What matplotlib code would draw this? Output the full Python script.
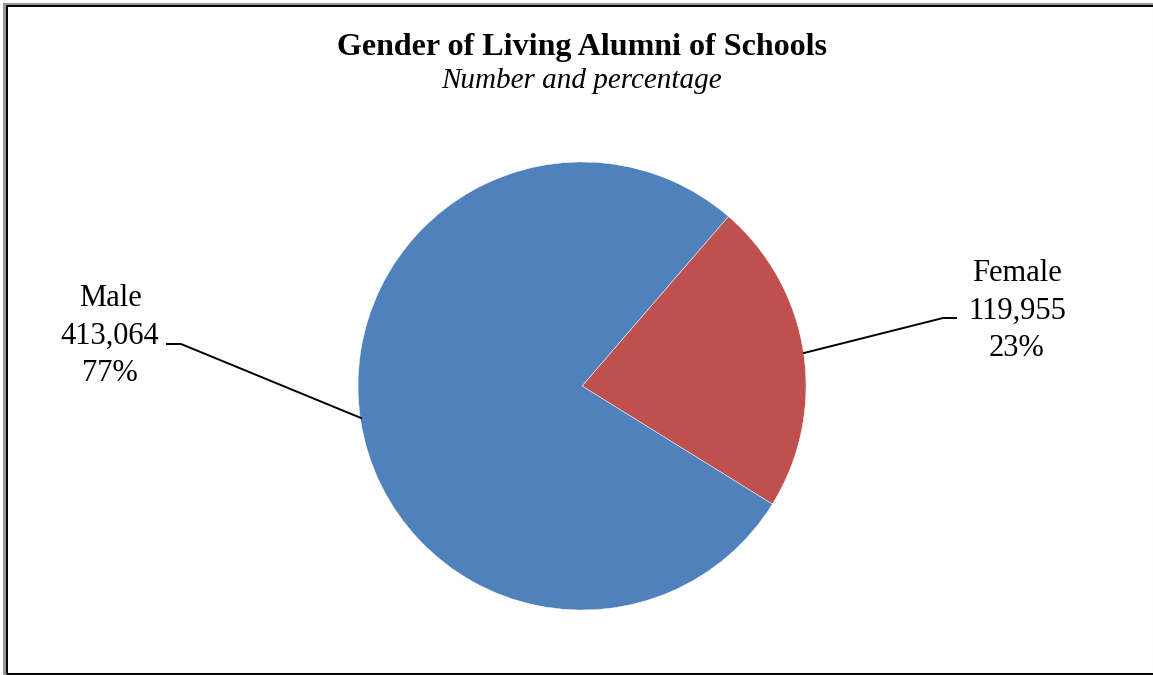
import matplotlib
matplotlib.use("Agg")
import matplotlib.pyplot as plt
from matplotlib.patches import Rectangle

labels = ["Female", "Male"]
values = [119955, 413064]
colors = ["#C0504D", "#4F81BD"]
title = "Gender of Living Alumni of Schools"
subtitle = "Number and percentage"

plt.rcParams['font.family'] = ['Liberation Serif', 'DejaVu Serif']

W, H = 1153, 675
fig = plt.figure(figsize=(W / 100, H / 100), dpi=100)
ax = fig.add_axes([0, 0, 1, 1])

cx, cy, r = 582, H - 386, 224
ax.pie(values, colors=colors, startangle=49.2, counterclock=False,
       center=(cx, cy), radius=r, frame=True,
       wedgeprops=dict(edgecolor='white', linewidth=0.3))
ax.set_xlim(0, W)
ax.set_ylim(0, H)
ax.set_aspect('equal')
ax.axis('off')

total = sum(values)
def lab(i):
    return f"{labels[i]}\n{values[i]:,}\n{round(values[i] / total * 100):d}%"

# Male label
ax.text(110, H - 336, lab(1), ha='center', va='center', fontsize=22, linespacing=1.4)
ax.plot([167, 181, 361], [H - 344, H - 344, H - 418], color='black', lw=1.4)
# Female label
ax.text(1017, H - 311, lab(0), ha='center', va='center', fontsize=22, linespacing=1.4)
ax.plot([804, 943, 956], [H - 353, H - 318, H - 318], color='black', lw=1.4)

ax.text(582, H - 47, title, ha='center', va='center', fontsize=23, fontweight='bold')
ax.text(582, H - 81, subtitle, ha='center', va='center', fontsize=21, style='italic')

# double frame
fig.patches.append(Rectangle((3.5 / W, 1.5 / H), (W - 3) / W, (H - 5) / H, transform=fig.transFigure,
                             fill=False, edgecolor='#999999', lw=2.2))
fig.patches.append(Rectangle((6.5 / W, 1.5 / H), (W - 5) / W, (H - 7.5) / H, transform=fig.transFigure,
                             fill=False, edgecolor='black', lw=1.4))

fig.savefig("out.png", dpi=100, facecolor='white')
